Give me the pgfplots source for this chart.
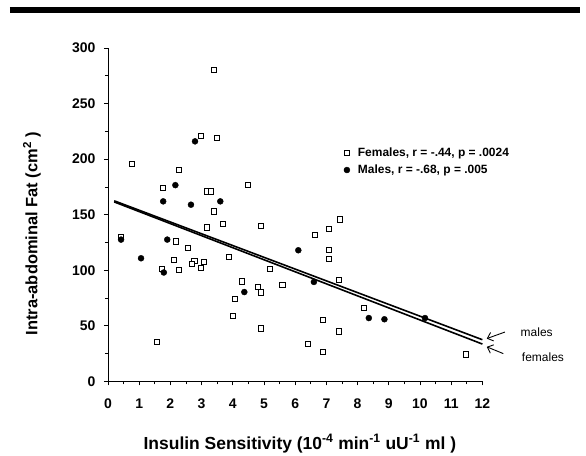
\documentclass[border=0pt]{standalone}
\usepackage{pgfplots}
\pgfplotsset{compat=1.18}
\usepackage{fontspec}
\setmainfont{Liberation Sans}
\usetikzlibrary{arrows.meta}

\pgfplotstableread{
x y
3.40 280
2.99 221
3.48 219
0.78 196
2.28 190
1.77 174
4.48 177
3.18 171
3.29 171
3.39 153
3.16 138.5
3.69 142
4.90 140
0.42 130
2.17 126
2.56 120
2.12 109.6
2.77 108.4
2.68 106
3.07 107.5
2.97 102.4
1.74 101.5
2.27 100
3.88 112
5.20 101.5
4.29 90
4.81 85
4.89 80
4.08 74
4.00 58.6
4.89 47.7
1.56 35.4
7.44 145.7
6.63 132
7.09 137
7.08 118
7.08 110.5
5.59 86.5
7.40 91
8.21 66.4
6.90 55
7.40 45
6.40 34
6.90 26.4
11.46 24.3
}\females

\pgfplotstableread{
x y
2.79 216
2.16 176.6
1.77 162
2.66 159
3.60 162
0.42 127.6
1.06 110.8
1.90 127.6
1.79 98
4.37 80.4
6.10 118
6.60 89.5
8.36 57
8.86 55.9
10.16 57
}\males

\begin{document}
\begin{tikzpicture}
\begin{axis}[
  scale only axis, width=374bp, height=333bp,
  xmin=0, xmax=12, ymin=0, ymax=300,
  axis lines=left, axis line style={-, line width=0.9pt},
  xtick={0,...,12}, ytick={0,50,...,300},
  minor x tick num=1, minor y tick num=1,
  tick align=outside, major tick length=4bp, minor tick length=3bp,
  every tick/.style={black, line width=0.7pt},
  ticklabel style={font=\bfseries\fontsize{14}{14}\selectfont},
  xticklabel style={yshift=-10bp},
  yticklabel style={xshift=-5bp},
  /pgf/number format/assume math mode=true,
  xlabel={\bfseries Insulin Sensitivity (10\textsuperscript{-4} min\textsuperscript{-1} uU\textsuperscript{-1} ml )},
  ylabel={\bfseries Intra-abdominal Fat (cm\textsuperscript{2} )},
  xlabel style={font=\fontsize{17.5}{17.5}\selectfont, at={(axis cs:6.15,-55.9)}, anchor=center},
  ylabel style={font=\fontsize{16.5}{16.5}\selectfont, at={(axis cs:-2.44,133)}, anchor=center},
  clip=false,
  legend style={at={(axis cs:7.46,214)}, anchor=north west, draw=none, fill=none,
    font=\bfseries\fontsize{12}{12}\selectfont, row sep=3bp},
  legend cell align=left,
]
\path (axis cs:-3.46,-63.1) rectangle (axis cs:15.32,343.2);
\draw[line width=5.5bp] (axis cs:-3.14,334) -- (axis cs:15.13,334);

\addplot[black, line width=1.6pt, forget plot] coordinates {(0.2,162.5) (12,37.5)};
\addplot[black, line width=1.6pt, forget plot] coordinates {(0.2,161.5) (12,33.6)};

\addplot[only marks, mark=square*, mark options={fill=white, draw=black, line width=0.9pt}, mark size=2.6pt] table {\females};
\addlegendentry{\hspace{6bp}Females, r = -.44, p = .0024}
\addplot[only marks, mark=*, mark options={fill=black, draw=black}, mark size=3pt] table {\males};
\addlegendentry{\hspace{6bp}Males, r = -.68, p = .005}

\draw[-{Straight Barb[length=5bp,width=9bp]}, line width=0.9pt] (axis cs:12.72,44.4) -- (axis cs:12.14,38.5);
\draw[-{Straight Barb[length=5bp,width=9bp]}, line width=0.9pt] (axis cs:12.67,25) -- (axis cs:12.14,31.1);
\node[anchor=center, font=\fontsize{12}{12}\selectfont] at (axis cs:13.74,44.4) {males};
\node[anchor=center, font=\fontsize{12}{12}\selectfont] at (axis cs:13.94,21.6) {females};
\end{axis}
\end{tikzpicture}
\end{document}
